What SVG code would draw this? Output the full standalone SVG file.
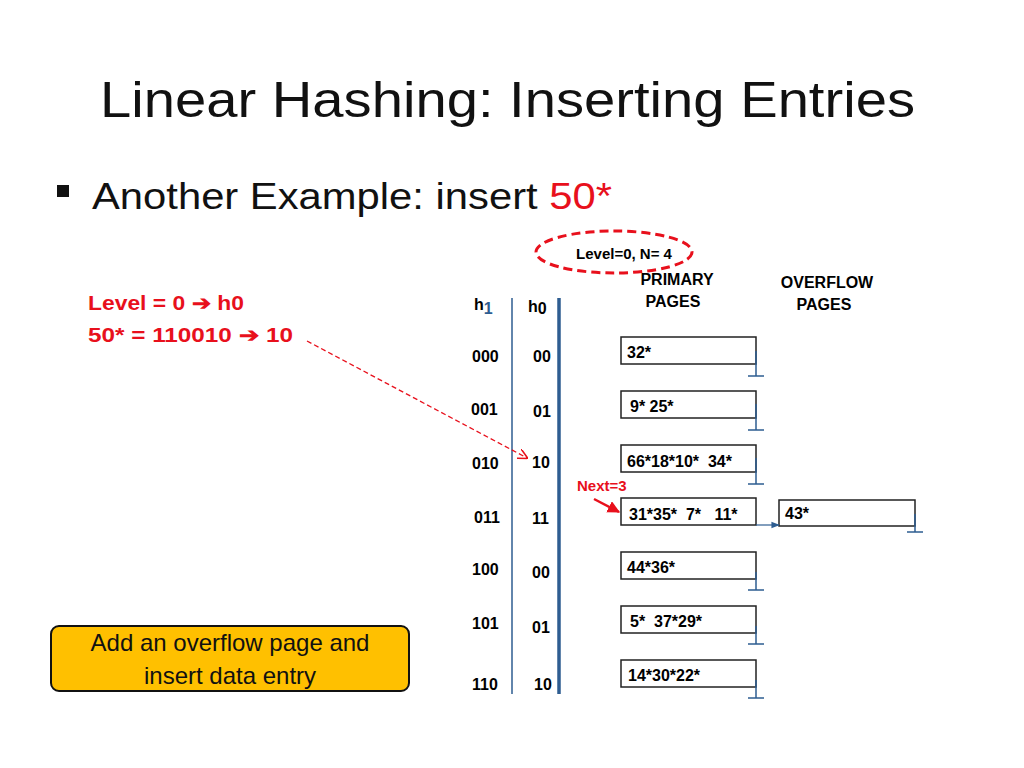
<svg xmlns="http://www.w3.org/2000/svg" width="1024" height="768" viewBox="0 0 1024 768">
<style>
text{font-family:"Liberation Sans",Arial,sans-serif}
.b{font-size:16px;font-weight:bold;fill:#000}
.r{fill:#e8101c}
.pg{fill:#fff;stroke:#222;stroke-width:1.5}
.gnd{stroke:#2e5d91;stroke-width:1.5;fill:none}
</style>
<defs>
<marker id="ar" viewBox="0 0 10 10" refX="9" refY="5" markerWidth="8" markerHeight="8" orient="auto"><path d="M0,0 L10,5 L0,10" fill="none" stroke="#e8101c" stroke-width="1.5"/></marker>
<marker id="ab" viewBox="0 0 10 10" refX="9" refY="5" markerWidth="7" markerHeight="7" orient="auto"><path d="M0,1 L10,5 L0,9 z" fill="#2e5d91"/></marker>
<marker id="af" viewBox="0 0 10 10" refX="9" refY="5" markerWidth="5" markerHeight="5" orient="auto"><path d="M0,0 L10,5 L0,10 z" fill="#e8101c"/></marker>
</defs>
<rect width="1024" height="768" fill="#fff"/>
<text x="100" y="117" font-size="50" textLength="815" lengthAdjust="spacingAndGlyphs" fill="#111">Linear Hashing: Inserting Entries</text>
<rect x="57" y="185" width="12" height="12" fill="#111"/>
<text x="92" y="209" font-size="36" textLength="520" lengthAdjust="spacingAndGlyphs" fill="#111">Another Example: insert <tspan class="r">50*</tspan></text>
<g id="levelN"><ellipse cx="614" cy="252" rx="78" ry="21" fill="none" stroke="#e8101c" stroke-width="3" stroke-dasharray="9,5"/><text x="624" y="259" font-size="15" font-weight="bold" text-anchor="middle">Level=0, N= 4</text></g>
<text x="677" y="285" class="b" text-anchor="middle">PRIMARY</text>
<text x="673" y="307" class="b" text-anchor="middle">PAGES</text>
<text x="827" y="288" class="b" text-anchor="middle">OVERFLOW</text>
<text x="824" y="310" class="b" text-anchor="middle">PAGES</text>
<g id="calc" font-size="20" font-weight="bold" fill="#e8101c">
<text x="88" y="310" textLength="156" lengthAdjust="spacingAndGlyphs">Level = 0 ➔ h0</text>
<text x="88" y="342" textLength="205" lengthAdjust="spacingAndGlyphs">50* = 110010 ➔ 10</text>
</g>
<text x="474" y="310" class="b">h<tspan fill="#2e5d91" dy="4">1</tspan></text>
<text x="528" y="312" class="b">h<tspan dy="2">0</tspan></text>
<line x1="512" y1="298" x2="512" y2="694" stroke="#2e5d91" stroke-width="1.5"/>
<line x1="559" y1="298" x2="559" y2="694" stroke="#2e5d91" stroke-width="3.5"/>
<g id="h1" class="b"><text x="472" y="362">000</text><text x="471" y="415">001</text><text x="472" y="469">010</text><text x="474" y="523">011</text><text x="472" y="575">100</text><text x="472" y="629">101</text><text x="472" y="690">110</text></g>
<g id="h0" class="b"><text x="533" y="362">00</text><text x="533" y="417">01</text><text x="532" y="468">10</text><text x="532" y="524">11</text><text x="532" y="578">00</text><text x="532" y="633">01</text><text x="534" y="690">10</text></g>
<g id="pages" font-size="16" font-weight="bold">
<g id="p0"><rect class="pg" x="621" y="337" width="135" height="27"/><text x="627" y="358">32*</text></g>
<g id="p1"><rect class="pg" x="621" y="391" width="135" height="27"/><text x="630" y="412">9* 25*</text></g>
<g id="p2"><rect class="pg" x="621" y="445" width="135" height="27"/><text x="627" y="467" xml:space="preserve">66*18*10*  34*</text></g>
<g id="p3"><rect class="pg" x="621" y="498" width="135" height="27"/><text x="629" y="520" xml:space="preserve">31*35*  7*   11*</text></g>
<g id="p4"><rect class="pg" x="621" y="552" width="135" height="27"/><text x="627" y="573">44*36*</text></g>
<g id="p5"><rect class="pg" x="621" y="606" width="135" height="27"/><text x="630" y="627" xml:space="preserve">5*  37*29*</text></g>
<g id="p6"><rect class="pg" x="621" y="660" width="135" height="27"/><text x="628" y="681">14*30*22*</text></g>
<g id="ov"><rect class="pg" x="779" y="500" width="136" height="26"/><text x="785" y="519">43*</text></g>
</g>
<g id="grounds" class="gnd">
<path d="M756,351V376M748,376H764"/><path d="M756,404V430M748,430H764"/><path d="M756,458V484M748,484H764"/>
<path d="M756,572V590M748,590H764"/><path d="M756,626V644M748,644H764"/><path d="M756,680V698M748,698H764"/>
<path d="M915,514V532M907,532H923"/>
</g>
<g id="connectors">
<line x1="756" y1="525" x2="779" y2="525" stroke="#2e5d91" stroke-width="1.2" marker-end="url(#ab)"/>
<line x1="307" y1="341" x2="527" y2="458" stroke="#e8101c" stroke-width="1.3" stroke-dasharray="5,3" marker-end="url(#ar)"/>
<line x1="594" y1="499" x2="619" y2="512" stroke="#e8101c" stroke-width="2.5" marker-end="url(#af)"/>
</g>
<text x="577" y="491" font-size="15" font-weight="bold" fill="#e8101c">Next=3</text>
<g id="note"><rect x="51" y="626" width="358" height="65" rx="8" fill="#ffc000" stroke="#111" stroke-width="2"/><text x="230" y="651" font-size="24" text-anchor="middle" fill="#111">Add an overflow page and</text><text x="230" y="684" font-size="24" text-anchor="middle" fill="#111">insert data entry</text></g>
</svg>
